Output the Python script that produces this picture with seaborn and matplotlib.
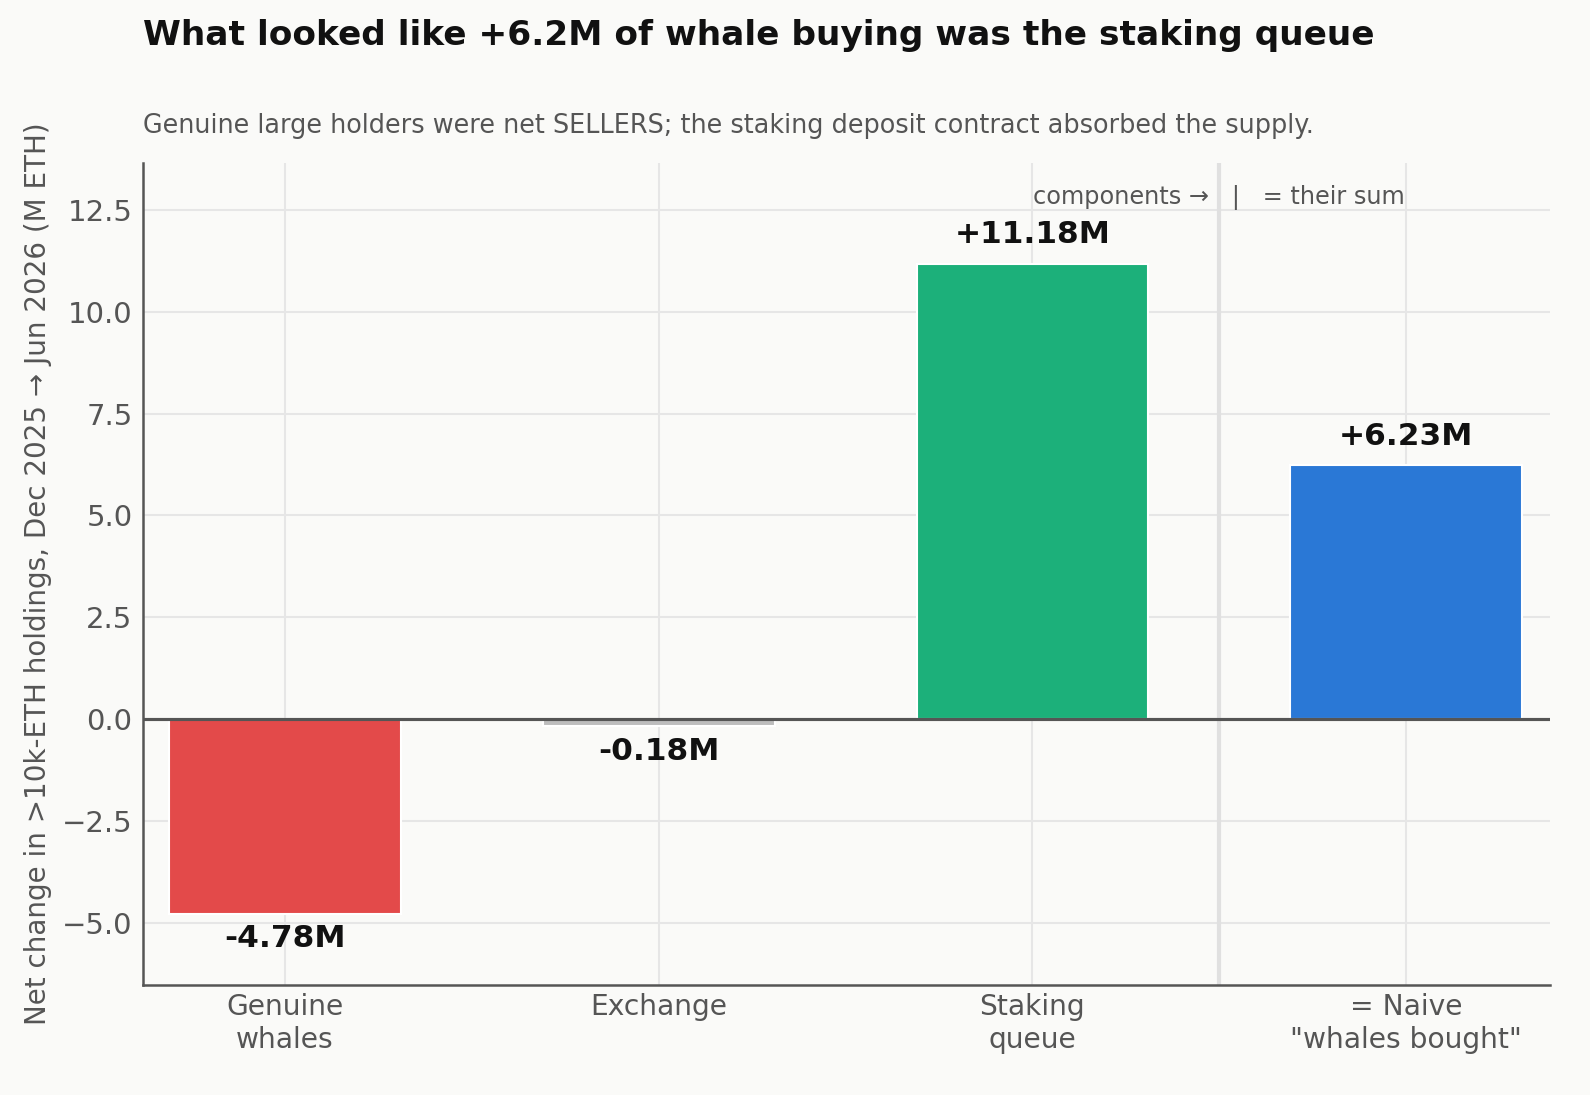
import matplotlib
matplotlib.use("Agg")
import matplotlib.pyplot as plt
import seaborn as sns
import pandas as pd

categories = ["Genuine\nwhales", "Exchange", "Staking\nqueue", "= Naive\n\"whales bought\""]
values = [-4.78, -0.18, 11.18, 6.23]
labels = ["-4.78M", "-0.18M", "+11.18M", "+6.23M"]
colors = ["#e34a4a", "#bdbdbd", "#1cb07a", "#2a78d6"]
yticks = [-5, -2.5, 0, 2.5, 5, 7.5, 10, 12.5]

BG = "#fafaf8"
sns.set_theme(style="whitegrid")
plt.rcParams["font.family"] = ["DejaVu Sans"]

df = pd.DataFrame({"category": categories, "value": values})

fig = plt.figure(figsize=(10.6, 7.3), dpi=150, facecolor=BG)
ax = fig.add_axes([143/1590, 1-985/1095, (1550-143)/1590, (985-163)/1095])
ax.set_facecolor(BG)

sns.barplot(data=df, x="category", y="value", hue="category", palette=colors,
            legend=False, width=0.62, saturation=1, ax=ax, zorder=3)

ax.set_xlim(-0.38, 3.385)
ax.set_ylim(-6.53, 13.65)
ax.set_yticks(yticks)
ax.yaxis.set_major_formatter(matplotlib.ticker.FuncFormatter(
    lambda v, p: f"{v:.1f}".replace("-", "\u2212")))

ax.grid(True, color="#e6e6e6", linewidth=1.0, zorder=0)
ax.set_axisbelow(True)
for s in ["top", "right"]:
    ax.spines[s].set_visible(False)
for s in ["left", "bottom"]:
    ax.spines[s].set_color("#555555")
    ax.spines[s].set_linewidth(1.2)

ax.axhline(0, color="#555555", linewidth=1.5, zorder=4)
ax.axvline(2.5, color="#e0e0e0", linewidth=2.0, zorder=1)

ax.tick_params(axis="both", colors="#555555", length=0)
ax.tick_params(axis="y", labelsize=14, pad=5)
ax.tick_params(axis="x", labelsize=13.5, pad=4)
ax.set_xlabel("")
ax.set_ylabel("Net change in >10k-ETH holdings, Dec 2025 \u2192 Jun 2026 (M ETH)",
              fontsize=13.3, color="#555555", labelpad=5)

for i, (v, lab) in enumerate(zip(values, labels)):
    if v >= 0:
        ax.annotate(lab, (i, v), xytext=(0, 7), textcoords="offset points",
                    ha="center", va="bottom", fontsize=15, fontweight="bold", color="#111111")
    else:
        ax.annotate(lab, (i, v), xytext=(0, -5), textcoords="offset points",
                    ha="center", va="top", fontsize=15, fontweight="bold", color="#111111")

ax.text(2.5, 12.8, "components \u2192   |   = their sum", ha="center", va="center",
        fontsize=11.5, color="#555555")

fig.text(143/1590, 1-35/1095, "What looked like +6.2M of whale buying was the staking queue",
         ha="left", va="center", fontsize=16.5, fontweight="bold", color="#111111")
fig.text(143/1590, 1-126/1095,
         "Genuine large holders were net SELLERS; the staking deposit contract absorbed the supply.",
         ha="left", va="center", fontsize=12.25, color="#555555")

fig.savefig("out.png", dpi=150, facecolor=BG)
